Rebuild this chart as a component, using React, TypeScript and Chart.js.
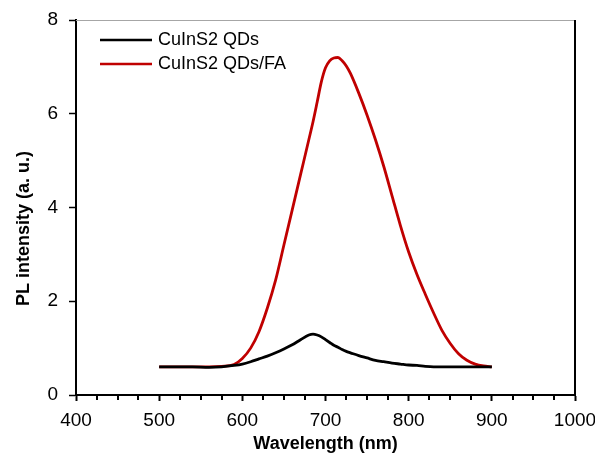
import { useEffect, useRef } from "react";
import { Chart, registerables } from "chart.js";

Chart.register(...registerables);

const FONT = '"Liberation Sans Narrow", "Arial Narrow", "Liberation Sans", Arial, sans-serif';

const wavelengths = [500, 520, 540, 560, 575, 590, 600, 610, 620, 630, 640, 650, 660, 670, 680, 685, 690, 695, 700, 705, 710, 715, 720, 725, 730, 740, 750, 760, 770, 780, 790, 800, 810, 820, 830, 840, 850, 860, 870, 880, 890, 900];

const qdValues = [0.6, 0.6, 0.6, 0.59, 0.6, 0.63, 0.66, 0.71, 0.77, 0.83, 0.9, 0.98, 1.07, 1.18, 1.28, 1.3, 1.28, 1.24, 1.18, 1.12, 1.06, 1.02, 0.97, 0.93, 0.9, 0.84, 0.79, 0.74, 0.71, 0.68, 0.66, 0.64, 0.63, 0.61, 0.6, 0.6, 0.6, 0.6, 0.6, 0.6, 0.6, 0.6];

const qdFaValues = [0.6, 0.6, 0.6, 0.6, 0.61, 0.65, 0.78, 1.0, 1.35, 1.85, 2.45, 3.2, 3.95, 4.7, 5.45, 5.83, 6.25, 6.68, 6.98, 7.13, 7.19, 7.2, 7.13, 7.02, 6.86, 6.44, 5.97, 5.45, 4.88, 4.25, 3.62, 3.05, 2.57, 2.15, 1.75, 1.38, 1.1, 0.88, 0.74, 0.66, 0.62, 0.6];

const seriesLabels = ["CuInS2 QDs", "CuInS2 QDs/FA"];
const seriesColors = ["#000000", "#C00000"];
const xTitle = "Wavelength (nm)";
const yTitle = "PL intensity (a. u.)";

const framePlugin = {
  id: "frame",
  afterDraw(chart: any) {
    const { ctx, chartArea } = chart;
    const { left, right, top, bottom } = chartArea;
    const x = chart.scales.x;
    ctx.save();
    // top border
    ctx.strokeStyle = "#a6a6a6";
    ctx.lineWidth = 1;
    ctx.beginPath();
    ctx.moveTo(left, top + 0.5);
    ctx.lineTo(right, top + 0.5);
    ctx.stroke();
    // right border
    ctx.strokeStyle = "#000";
    ctx.lineWidth = 2;
    ctx.beginPath();
    ctx.moveTo(right, top);
    ctx.lineTo(right, bottom + 1);
    ctx.stroke();
    // minor ticks
    for (let v = 425; v < 1000; v += 25) {
      if (v % 100 === 0) continue;
      const px = Math.round(x.getPixelForValue(v));
      ctx.beginPath();
      ctx.moveTo(px, bottom);
      ctx.lineTo(px, bottom + 5);
      ctx.stroke();
    }
    // legend
    ctx.font = `18px ${FONT}`;
    ctx.textBaseline = "middle";
    ctx.textAlign = "left";
    chart.data.datasets.forEach((ds: any, i: number) => {
      const y = top + 20 + i * 24;
      ctx.strokeStyle = ds.borderColor;
      ctx.lineWidth = 2.5;
      ctx.beginPath();
      ctx.moveTo(left + 24, y);
      ctx.lineTo(left + 76, y);
      ctx.stroke();
      ctx.fillStyle = "#000";
      ctx.fillText(ds.label, left + 82, y);
    });
    // y title
    ctx.translate(24, (top + bottom) / 2 + 21);
    ctx.rotate(-Math.PI / 2);
    ctx.font = `bold 18px ${FONT}`;
    ctx.textAlign = "center";
    ctx.fillStyle = "#000";
    ctx.fillText(yTitle, 0, 0);
    ctx.restore();
  },
};

export default function App() {
  const ref = useRef<HTMLCanvasElement>(null);
  useEffect(() => {
    if (!ref.current) return;
    const mk = (vals: number[]) => wavelengths.map((w, i) => ({ x: w, y: vals[i] }));
    const chart = new Chart(ref.current, {
      type: "line",
      data: {
        datasets: [
          {
            label: seriesLabels[0],
            data: mk(qdValues),
            borderColor: seriesColors[0],
            borderWidth: 2.8,
            pointRadius: 0,
            cubicInterpolationMode: "monotone",
            fill: false,
          },
          {
            label: seriesLabels[1],
            data: mk(qdFaValues),
            borderColor: seriesColors[1],
            borderWidth: 2.8,
            pointRadius: 0,
            cubicInterpolationMode: "monotone",
            fill: false,
          },
        ],
      },
      options: {
        animation: false,
        responsive: true,
        maintainAspectRatio: false,
        layout: { padding: { left: 0, right: 20, top: 20, bottom: 0 } },
        plugins: { legend: { display: false }, tooltip: { enabled: false } },
        scales: {
          x: {
            type: "linear",
            min: 400,
            max: 1000,
            afterFit: (s: any) => {
              s.height = 62;
              s.paddingLeft = 0;
              s.paddingRight = 0;
            },
            ticks: {
              stepSize: 100,
              padding: 8,
              color: "#000",
              font: { family: FONT, size: 19 },
              callback: (v: any) => String(v),
            },
            grid: { drawOnChartArea: false, tickLength: 6, tickColor: "#000", tickWidth: 2 },
            border: { display: true, color: "#000", width: 2 },
            title: {
              display: true,
              text: xTitle,
              color: "#000",
              font: { family: FONT, size: 18, weight: "bold" },
              padding: { top: 0, bottom: 2 },
            },
          },
          y: {
            min: 0,
            max: 8,
            afterFit: (s: any) => {
              s.width = 76;
              s.paddingTop = 0;
              s.paddingBottom = 0;
            },
            ticks: {
              stepSize: 2,
              padding: 11,
              color: "#000",
              font: { family: FONT, size: 19 },
            },
            grid: { drawOnChartArea: false, tickLength: 7, tickColor: "#000", tickWidth: 1.5 },
            border: { display: true, color: "#000", width: 2 },
          },
        },
      },
      plugins: [framePlugin],
    });
    return () => chart.destroy();
  }, []);
  return (
    <div style={{ position: "fixed", left: 0, top: 0, width: 595, height: 457, background: "#fff" }}>
      <canvas ref={ref} />
    </div>
  );
}
